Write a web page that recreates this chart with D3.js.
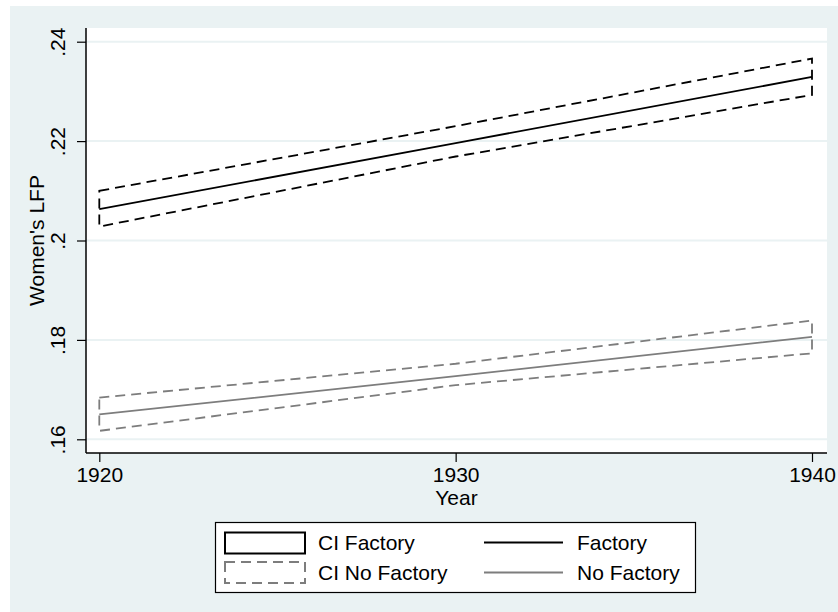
<!DOCTYPE html>
<html>
<head>
<meta charset="utf-8">
<script src="https://cdn.jsdelivr.net/npm/d3@7"></script>
<style>
  body { margin: 0; background: #fff; }
  text { font-family: "Liberation Sans", Arial, sans-serif; fill: #000; }
</style>
</head>
<body>
<div id="chart"></div>
<script>
// data
var years = [1920, 1930, 1940];
var factory = [0.2063, 0.2196, 0.2329];
var factoryLo = [0.2028, 0.2169, 0.2293];
var factoryHi = [0.2100, 0.2230, 0.2366];
var noFactory = [0.1650, 0.1727, 0.1806];
var noFactoryLo = [0.1617, 0.1709, 0.1773];
var noFactoryHi = [0.1684, 0.1752, 0.1839];

var yTicks = [0.16, 0.18, 0.20, 0.22, 0.24];
var yTickLabels = [".16", ".18", ".2", ".22", ".24"];
var xTicks = [1920, 1930, 1940];

var W = 838, H = 612;
var bg = "#EAF2F3", grey = "#7d7d7d";
var fs = "21px";
var plot = {left: 86, right: 827, top: 28, bottom: 453};

var svg = d3.select("#chart")
  .append("svg")
  .attr("width", W)
  .attr("height", H);

svg.append("rect").attr("x", 0).attr("y", 0).attr("width", W).attr("height", H).attr("fill", "#fff");
svg.append("rect").attr("x", 10).attr("y", 6).attr("width", W - 10).attr("height", H - 6).attr("fill", bg);
svg.append("rect")
  .attr("x", plot.left).attr("y", plot.top)
  .attr("width", plot.right - plot.left).attr("height", plot.bottom - plot.top)
  .attr("fill", "#fff");

var x = d3.scaleLinear().domain([1920, 1940]).range([99.3, 812]);
var y = d3.scaleLinear().domain([0.16, 0.24]).range([439.3, 41.7]);

// gridlines
svg.append("g")
  .selectAll("line")
  .data(yTicks)
  .enter()
  .append("line")
  .attr("x1", plot.left).attr("x2", plot.right)
  .attr("y1", function(d) { return y(d); })
  .attr("y2", function(d) { return y(d); })
  .attr("stroke", bg)
  .attr("stroke-width", 2);

// y axis
var yAxis = d3.axisLeft(y)
  .tickValues(yTicks)
  .tickSize(9)
  .tickFormat(function(d, i) { return yTickLabels[i]; });

var gy = svg.append("g")
  .attr("transform", "translate(" + plot.left + ",0)")
  .call(yAxis);
gy.select(".domain").remove();
gy.selectAll(".tick line").attr("stroke", "#000").attr("stroke-width", 1.2);
gy.selectAll(".tick text")
  .attr("x", 0).attr("y", 0).attr("dy", null)
  .attr("transform", "translate(-21,0) rotate(-90)")
  .attr("text-anchor", "middle")
  .style("font-size", fs)
  .style("font-family", "Liberation Sans, Arial, sans-serif")
  .attr("fill", "#000");

// x axis
var xAxis = d3.axisBottom(x)
  .tickValues(xTicks)
  .tickSize(9)
  .tickFormat(d3.format("d"));

var gx = svg.append("g")
  .attr("transform", "translate(0," + plot.bottom + ")")
  .call(xAxis);
gx.select(".domain").remove();
gx.selectAll(".tick line").attr("stroke", "#000").attr("stroke-width", 1.2);
gx.selectAll(".tick text")
  .attr("y", 29).attr("dy", null)
  .style("font-size", fs)
  .style("font-family", "Liberation Sans, Arial, sans-serif")
  .attr("fill", "#000");

// axis lines
svg.append("line")
  .attr("x1", plot.left).attr("x2", plot.left)
  .attr("y1", plot.top).attr("y2", plot.bottom)
  .attr("stroke", "#000").attr("stroke-width", 1.5);
svg.append("line")
  .attr("x1", plot.left).attr("x2", plot.right)
  .attr("y1", plot.bottom).attr("y2", plot.bottom)
  .attr("stroke", "#000").attr("stroke-width", 1.5);

// axis titles
svg.append("text")
  .attr("x", (plot.left + plot.right) / 2).attr("y", 505)
  .attr("text-anchor", "middle")
  .style("font-size", fs)
  .text("Year");
svg.append("text")
  .attr("transform", "translate(44," + ((plot.top + plot.bottom) / 2) + ") rotate(-90)")
  .attr("text-anchor", "middle")
  .style("font-size", fs)
  .text("Women's LFP");

// CI outlines (closed, dashed)
function ciPoints(lo, hi) {
  var pts = [];
  years.forEach(function(yr, i) { pts.push([x(yr), y(hi[i])]); });
  for (var i = years.length - 1; i >= 0; i--) pts.push([x(years[i]), y(lo[i])]);
  return pts;
}
var outline = d3.line().curve(d3.curveLinearClosed);

svg.append("path")
  .attr("d", outline(ciPoints(factoryLo, factoryHi)))
  .attr("fill", "none")
  .attr("stroke", "#000")
  .attr("stroke-width", 1.8)
  .attr("stroke-dasharray", "10,6");

svg.append("path")
  .attr("d", outline(ciPoints(noFactoryLo, noFactoryHi)))
  .attr("fill", "none")
  .attr("stroke", grey)
  .attr("stroke-width", 1.8)
  .attr("stroke-dasharray", "10,6");

// point estimate lines
var line = d3.line()
  .x(function(d, i) { return x(years[i]); })
  .y(function(d) { return y(d); });

svg.append("path")
  .attr("d", line(factory))
  .attr("fill", "none")
  .attr("stroke", "#000")
  .attr("stroke-width", 1.8);

svg.append("path")
  .attr("d", line(noFactory))
  .attr("fill", "none")
  .attr("stroke", grey)
  .attr("stroke-width", 1.8);

// legend
var lg = svg.append("g");
lg.append("rect")
  .attr("x", 215.5).attr("y", 522.5).attr("width", 480).attr("height", 70)
  .attr("fill", "#fff").attr("stroke", "#000").attr("stroke-width", 1.2);

lg.append("rect")
  .attr("x", 225).attr("y", 532.5).attr("width", 80).attr("height", 21)
  .attr("fill", "#fff").attr("stroke", "#000").attr("stroke-width", 2);
lg.append("rect")
  .attr("x", 225).attr("y", 562).attr("width", 80).attr("height", 21)
  .attr("fill", "#fff").attr("stroke", grey).attr("stroke-width", 2)
  .attr("stroke-dasharray", "10,6");

lg.append("line")
  .attr("x1", 484).attr("x2", 563).attr("y1", 542.5).attr("y2", 542.5)
  .attr("stroke", "#000").attr("stroke-width", 1.8);
lg.append("line")
  .attr("x1", 484).attr("x2", 563).attr("y1", 572.5).attr("y2", 572.5)
  .attr("stroke", grey).attr("stroke-width", 1.8);

var legendText = [
  {x: 318, y: 550, t: "CI Factory"},
  {x: 318, y: 580, t: "CI No Factory"},
  {x: 577, y: 550, t: "Factory"},
  {x: 577, y: 580, t: "No Factory"}
];
lg.selectAll("text.lab")
  .data(legendText)
  .enter()
  .append("text")
  .attr("class", "lab")
  .attr("x", function(d) { return d.x; })
  .attr("y", function(d) { return d.y; })
  .style("font-size", fs)
  .text(function(d) { return d.t; });
</script>
</body>
</html>
